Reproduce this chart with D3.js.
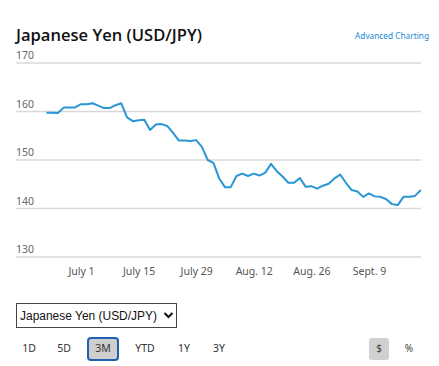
<!DOCTYPE html>
<html><head><meta charset="utf-8">
<script src="https://cdn.jsdelivr.net/npm/d3@7"></script>
<style>
html,body{margin:0;padding:0;background:#fff;}
svg{display:block;}
</style></head>
<body>
<svg id="c" width="439" height="366"></svg>
<script>
const dates = [
 "2024-06-21","2024-06-24","2024-06-25","2024-06-26","2024-06-27","2024-06-28",
 "2024-07-01","2024-07-02","2024-07-03","2024-07-04","2024-07-05",
 "2024-07-08","2024-07-09","2024-07-10","2024-07-11","2024-07-12",
 "2024-07-15","2024-07-16","2024-07-17","2024-07-18","2024-07-19",
 "2024-07-22","2024-07-23","2024-07-24","2024-07-25","2024-07-26",
 "2024-07-29","2024-07-30","2024-07-31","2024-08-01","2024-08-02",
 "2024-08-05","2024-08-06","2024-08-07","2024-08-08","2024-08-09",
 "2024-08-12","2024-08-13","2024-08-14","2024-08-15","2024-08-16",
 "2024-08-19","2024-08-20","2024-08-21","2024-08-22","2024-08-23",
 "2024-08-26","2024-08-27","2024-08-28","2024-08-29","2024-08-30",
 "2024-09-02","2024-09-03","2024-09-04","2024-09-05","2024-09-06",
 "2024-09-09","2024-09-10","2024-09-11","2024-09-12","2024-09-13",
 "2024-09-16","2024-09-17","2024-09-18","2024-09-19","2024-09-20"];
const values = [
 159.75,159.73,159.7,160.8,160.8,160.85,
 161.5,161.5,161.7,161.2,160.7,
 160.7,161.3,161.7,158.8,158.0,
 158.2,158.3,156.2,157.3,157.4,
 157.0,155.6,154.0,154.0,153.9,
 154.1,152.7,150.0,149.4,146.2,
 144.4,144.4,146.7,147.2,146.7,
 147.2,146.8,147.4,149.2,147.7,
 146.6,145.3,145.3,146.3,144.5,
 144.6,144.1,144.7,145.1,146.2,
 147.0,145.3,143.8,143.5,142.4,
 143.1,142.5,142.4,141.9,140.9,
 140.7,142.4,142.4,142.6,143.8];
const yTicks = [130,140,150,160,170];
const xTickDates = ["2024-07-01","2024-07-15","2024-07-29","2024-08-12","2024-08-26","2024-09-09"];
const xTickLabels = ["July 1","July 15","July 29","Aug. 12","Aug. 26","Sept. 9"];
const title = "Japanese Yen (USD/JPY)";
const rangeButtons = ["1D","5D","3M","YTD","1Y","3Y"];
const selectedRange = "3M";
const unitButtons = ["$","%"];
const selectedUnit = "$";

const svg = d3.select("#c");
const F = "'Noto Sans', sans-serif";

svg.append("text").attr("x",16).attr("y",41).text(title)
  .attr("font-family","'Open Sans', sans-serif").attr("font-weight",600)
  .attr("font-size",17).attr("fill","#111").attr("textLength",186).attr("lengthAdjust","spacingAndGlyphs");
svg.append("text").attr("x",355).attr("y",39).text("Advanced Charting")
  .attr("font-family",F).attr("font-size",9.2).attr("fill","#1a8ad4")
  .attr("textLength",74).attr("lengthAdjust","spacingAndGlyphs");

const x = d3.scalePoint().domain(dates).range([46.4,420.8]);
const y = d3.scaleLinear().domain([130,170]).range([257,63]);

const gy = svg.append("g");
yTicks.forEach(t=>{
  gy.append("line").attr("x1",16).attr("x2",421).attr("y1",y(t)).attr("y2",y(t))
    .attr("stroke","#d9d9d9").attr("stroke-width",1.3);
  gy.append("text").attr("x",16).attr("y",y(t)-4).text(t)
    .attr("font-family",F).attr("font-size",10.5).attr("fill","#666");
});

const gx = svg.append("g").attr("transform","translate(0,257)")
  .call(d3.axisBottom(x).tickValues(xTickDates).tickSize(0).tickPadding(11)
    .tickFormat((d)=>xTickLabels[xTickDates.indexOf(d)]));
gx.select(".domain").remove();
gx.selectAll("text").attr("font-family",F).attr("font-size",10.5).attr("fill","#555");

svg.append("path").datum(values.map((v,i)=>[dates[i],v]))
  .attr("fill","none").attr("stroke","#2897d4").attr("stroke-width",2).attr("stroke-linejoin","round")
  .attr("d",d3.line().x(d=>x(d[0])).y(d=>y(d[1])));

// select box
svg.append("rect").attr("x",16.5).attr("y",303.5).attr("width",160).attr("height",24)
  .attr("fill","#fff").attr("stroke","#444").attr("stroke-width",1);
svg.append("text").attr("x",20).attr("y",320).text(title)
  .attr("font-family","'Liberation Sans', Arial, sans-serif").attr("font-size",12.5).attr("fill","#111")
  .attr("textLength",137).attr("lengthAdjust","spacingAndGlyphs");
svg.append("path").attr("d","M164.5,313 L168.5,317 L172.5,313").attr("fill","none")
  .attr("stroke","#111").attr("stroke-width",2);

const rangeX = [29,64,103,145,184,219];
rangeButtons.forEach((b,i)=>{
  if(b===selectedRange){
    svg.append("rect").attr("x",88).attr("y",338).attr("width",30).attr("height",22).attr("rx",3)
      .attr("fill","#cfcfcf").attr("stroke","#1d62b0").attr("stroke-width",2);
  }
  svg.append("text").attr("x",rangeX[i]).attr("y",352).attr("text-anchor","middle").text(b)
    .attr("font-family",F).attr("font-size",10.5).attr("fill","#333");
});
const unitX = [379,409];
unitButtons.forEach((b,i)=>{
  if(b===selectedUnit){
    svg.append("rect").attr("x",369).attr("y",338).attr("width",20).attr("height",22).attr("rx",3)
      .attr("fill","#d0d0d0");
  }
  svg.append("text").attr("x",unitX[i]).attr("y",352).attr("text-anchor","middle").text(b)
    .attr("font-family",F).attr("font-size",10).attr("fill","#444");
});
</script>
</body></html>
